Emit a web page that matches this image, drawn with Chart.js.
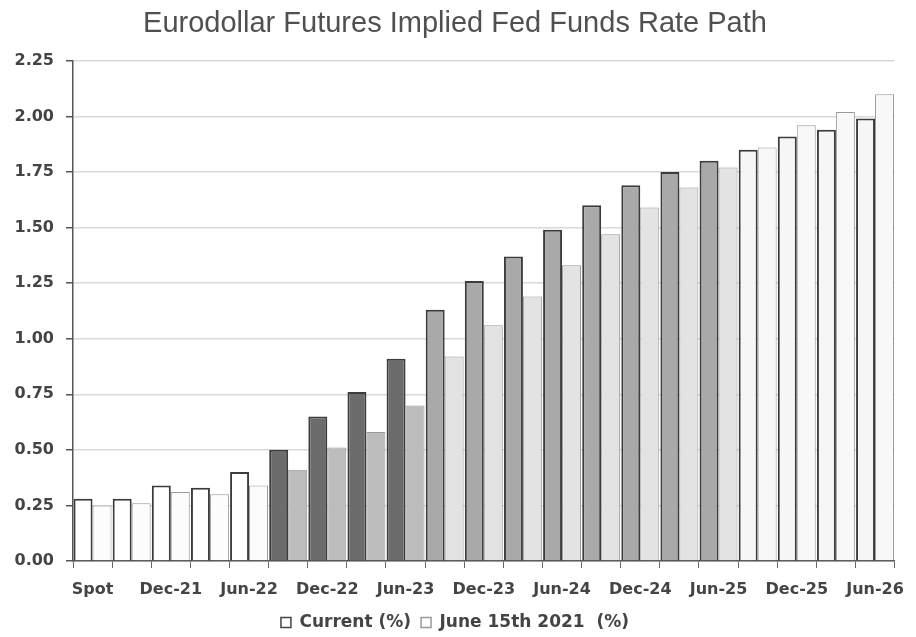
<!DOCTYPE html>
<html lang="en">
<head>
    <meta charset="UTF-8">
    <title>Eurodollar Futures Implied Fed Funds Rate Path</title>
    <script src="https://cdn.jsdelivr.net/npm/chart.js"></script>
    <style>
        html, body {
            margin: 0;
            padding: 0;
            background: #fff;
        }
        .chart-container {
            position: relative;
            width: 916px;
            height: 637px;
        }
    </style>
</head>
<body>
    <div class="chart-container">
        <canvas id="ratePathChart"></canvas>
    </div>
    <script>
        // Quarterly Eurodollar contracts, spot first
        const contracts = ['Spot', 'Sep-21', 'Dec-21', 'Mar-22', 'Jun-22', 'Sep-22', 'Dec-22',
            'Mar-23', 'Jun-23', 'Sep-23', 'Dec-23', 'Mar-24', 'Jun-24', 'Sep-24', 'Dec-24',
            'Mar-25', 'Jun-25', 'Sep-25', 'Dec-25', 'Mar-26', 'Jun-26'];

        // Implied rates (%)
        const currentRates = [0.28, 0.28, 0.34, 0.33, 0.40, 0.50, 0.65, 0.76, 0.91, 1.13, 1.26,
            1.37, 1.49, 1.60, 1.69, 1.75, 1.80, 1.85, 1.91, 1.94, 1.99];
        const june15Rates = [0.25, 0.26, 0.31, 0.30, 0.34, 0.41, 0.51, 0.58, 0.70, 0.92, 1.06,
            1.19, 1.33, 1.47, 1.59, 1.68, 1.77, 1.86, 1.96, 2.02, 2.10];

        const seriesLabels = ['Current (%)', 'June 15th 2021  (%)'];

        // shading steps along the curve: front, near, mid, back
        function tier(i) {
            if (i < 5) return 0;
            if (i < 9) return 1;
            if (i < 17) return 2;
            return 3;
        }
        const currentFill = ['#ffffff', '#6c6c6c', '#a9a9a9', '#f6f6f6'];
        const juneFill = ['#fcfcfc', '#bcbcbc', '#e3e3e3', '#f8f8f8'];

        const tickFont = { family: "'DejaVu Sans', Verdana, sans-serif", size: 16, weight: 'bold' };
        const lastLine = contracts.length;

        const ctx = document.getElementById('ratePathChart').getContext('2d');
        new Chart(ctx, {
            type: 'bar',
            data: {
                labels: contracts,
                datasets: [{
                    label: seriesLabels[0],
                    data: currentRates,
                    backgroundColor: contracts.map((_, i) => currentFill[tier(i)]),
                    borderColor: '#3c3c3c',
                    borderWidth: 2,
                    categoryPercentage: 0.97,
                    barPercentage: 1.0
                }, {
                    label: seriesLabels[1],
                    data: june15Rates,
                    backgroundColor: contracts.map((_, i) => juneFill[tier(i)]),
                    borderColor: '#999',
                    borderWidth: 1,
                    categoryPercentage: 0.97,
                    barPercentage: 1.0
                }]
            },
            options: {
                responsive: true,
                maintainAspectRatio: false,
                animation: false,
                layout: {
                    padding: { left: 0, right: 6, top: 0, bottom: -4 }
                },
                scales: {
                    x: {
                        grid: {
                            offset: true,
                            color: c => c.index === lastLine ? '#cfcfcf' : 'rgba(0,0,0,0)',
                            tickColor: '#666',
                            tickLength: 7,
                            lineWidth: 1
                        },
                        border: { color: '#555', width: 1.5 },
                        ticks: {
                            autoSkip: false,
                            maxRotation: 0,
                            padding: 12,
                            color: '#444',
                            font: tickFont,
                            callback: (v, i) => i % 2 === 0 ? contracts[i] : ''
                        },
                        afterFit: scale => { scale.height = 43; }
                    },
                    y: {
                        min: 0,
                        max: 2.25,
                        grid: {
                            color: '#d9d9d9',
                            tickColor: '#555',
                            tickLength: 7,
                            lineWidth: 1.5
                        },
                        border: { color: '#555', width: 1.5 },
                        ticks: {
                            stepSize: 0.25,
                            padding: 12,
                            color: '#444',
                            font: tickFont,
                            callback: v => v.toFixed(2)
                        },
                        afterFit: scale => { scale.width = 73; }
                    }
                },
                plugins: {
                    title: {
                        display: true,
                        text: 'Eurodollar Futures Implied Fed Funds Rate Path',
                        color: '#505050',
                        font: { family: "'Liberation Sans', Arial, sans-serif", size: 29, weight: 'normal' },
                        padding: { top: 7, bottom: 19 }
                    },
                    legend: {
                        position: 'bottom',
                        labels: {
                            boxWidth: 10,
                            boxHeight: 10,
                            padding: 10,
                            color: '#444',
                            font: { family: "'DejaVu Sans', Verdana, sans-serif", size: 17, weight: 'bold' },
                            generateLabels: chart => chart.data.datasets.map((ds, i) => ({
                                text: ds.label,
                                fillStyle: '#fff',
                                strokeStyle: i === 0 ? '#444' : '#999',
                                lineWidth: 1.5,
                                fontColor: '#444',
                                hidden: false,
                                datasetIndex: i
                            }))
                        }
                    },
                    tooltip: { enabled: false }
                }
            }
        });
    </script>
</body>
</html>
